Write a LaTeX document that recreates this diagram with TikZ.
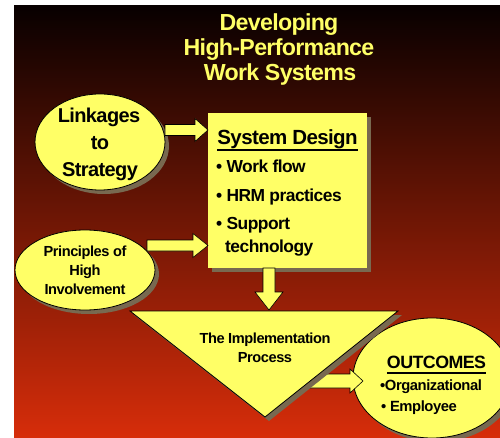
\documentclass[tikz,border=0pt]{standalone}
\usepackage{fontspec}
\setmainfont{Liberation Sans}[LetterSpace=-3]
\usetikzlibrary{shapes.geometric,shadows,calc}
\definecolor{yel}{RGB}{255,255,102}
\definecolor{shad}{RGB}{120,105,80}
\definecolor{bgtop}{RGB}{8,0,0}
\definecolor{bgmid}{RGB}{150,25,8}
\definecolor{bgbot}{RGB}{215,45,10}
\newcommand\rblockarrow[5]{%
  \draw[blockarrow] let \p1=(#1), \p2=(#2) in
    (\x1,\y1+#3) -- (\x2-#5,\y1+#3) -- (\x2-#5,\y1+#4) -- (\x2,\y1)
    -- (\x2-#5,\y1-#4) -- (\x2-#5,\y1-#3) -- (\x1,\y1-#3) -- cycle;}
\newcommand\dblockarrow[5]{%
  \draw[blockarrow] let \p1=(#1), \p2=(#2) in
    (\x1-#3,\y1) -- (\x1-#3,\y2+#5) -- (\x1-#4,\y2+#5) -- (\x1,\y2)
    -- (\x1+#4,\y2+#5) -- (\x1+#3,\y2+#5) -- (\x1+#3,\y1) -- cycle;}
\begin{document}
\begin{tikzpicture}[x=1pt,y=-1pt,
  shapeshadow/.style={general shadow={fill=shad,shadow xshift=4pt,shadow yshift=-4pt}},
  oval/.style={ellipse,fill=yel,draw=black,line width=0.8pt,inner sep=0pt,shapeshadow},
  blockarrow/.style={fill=yel,draw=black,line width=0.6pt,line join=miter},
  lbl/.style={inner sep=0pt,anchor=base,text=black},
  lblw/.style={inner sep=0pt,anchor=base west,text=black},
  titlefont/.style={font=\fontsize{23.2}{26}\selectfont\bfseries,text=yel},
  bigfont/.style={font=\fontsize{20}{22}\selectfont\bfseries},
  sdfont/.style={font=\fontsize{20.5}{22}\selectfont\bfseries},
  bulfont/.style={font=\fontsize{17.4}{20}\selectfont\bfseries},
  smallfont/.style={font=\fontsize{14.6}{16}\selectfont\bfseries},
  outfont/.style={font=\fontsize{17.8}{20}\selectfont\bfseries},
  orgfont/.style={font=\fontsize{14.8}{17}\selectfont\bfseries}]
\useasboundingbox (0,0) rectangle (500,438);
\clip (0,0) rectangle (500,438);
\fill[white] (0,0) rectangle (500,438);
\shade[top color=bgtop, middle color=bgmid, bottom color=bgbot] (14,6) rectangle (500,438);

% title
\node[lbl,titlefont] (t1) at (279,30.2) {Developing};
\node[lbl,titlefont] (t2) at (279,55.2) {High-Performance};
\node[lbl,titlefont] (t3) at (280,80.2) {Work Systems};

% Linkages ellipse
\node[oval,minimum width=130pt,minimum height=96pt] (link) at (100,142) {};
\node[lbl,bigfont] (linkA) at (99,122.7) {Linkages};
\node[lbl,bigfont] (linkB) at (100,149.7) {to};
\node[lbl,bigfont] (linkC) at (100,176.7) {Strategy};

% Principles ellipse
\node[oval,minimum width=140pt,minimum height=80pt] (prin) at (85,270) {};
\node[lbl,smallfont] (prinA) at (85,256.8) {Principles of};
\node[lbl,smallfont] (prinB) at (85,275.8) {High};
\node[lbl,smallfont] (prinC) at (85,294.8) {Involvement};

% System design box
\node[rectangle,fill=yel,inner sep=0pt,minimum width=159pt,minimum height=155pt,shapeshadow] (sys) at (287.5,190.5) {};
\node[lbl,sdfont] (sysT) at (287.5,144.8) {System Design};
\draw[line width=2pt] (sysT.base west) ++(0,5.3) coordinate (ulA) -- (ulA -| sysT.base east);
\node[lblw,bulfont] (b1) at (216,172.8) {• Work flow};
\node[lblw,bulfont] (b2) at (216,201.4) {• HRM practices};
\node[lblw,bulfont] (b3) at (216,229.8) {• Support};
\node[lblw,bulfont] (b4) at (225,252.3) {technology};

% arrows into box
\coordinate (a1s) at (165,130);
\coordinate (a1e) at (208,130);
\rblockarrow{a1s}{a1e}{5.5pt}{11.5pt}{13pt}
\coordinate (a2s) at (147,245.5);
\coordinate (a2e) at (208,245.5);
\rblockarrow{a2s}{a2e}{5.5pt}{12pt}{15pt}

% down arrow
\coordinate (dA) at (269,268);
\coordinate (dB) at (269,310);
\dblockarrow{dA}{dB}{6pt}{14pt}{18pt}

% Outcomes ellipse
\node[oval,minimum width=158pt,minimum height=120pt] (out) at (432,378) {};
\node[lbl,outfont] (outT) at (436.5,368.8) {OUTCOMES};
\draw[line width=2pt] (outT.base west) ++(0,3.8) coordinate (ulB) -- (ulB -| outT.base east);
\node[lblw,orgfont] (o1) at (380,390.8) {•Organizational};
\node[lblw,orgfont] (o2) at (381,411.8) {• Employee};

% arrow to outcomes
\coordinate (a3s) at (306,381);
\coordinate (a3e) at (363,381);
\rblockarrow{a3s}{a3e}{7pt}{12pt}{13pt}

% triangle
\coordinate (triL) at (130,311);
\coordinate (triR) at (398,311);
\coordinate (triB) at (265,417);
\fill[shad] ($(triL)+(4,4)$) -- ($(triR)+(4,4)$) -- ($(triB)+(4,4)$) -- cycle;
\filldraw[fill=yel,draw=black,line width=0.8pt,line join=miter] (triL) -- (triR) -- (triB) -- cycle;
\node[lbl,smallfont] (impA) at (265,343.8) {The Implementation};
\node[lbl,smallfont] (impB) at (265,362.8) {Process};
\end{tikzpicture}
\end{document}
